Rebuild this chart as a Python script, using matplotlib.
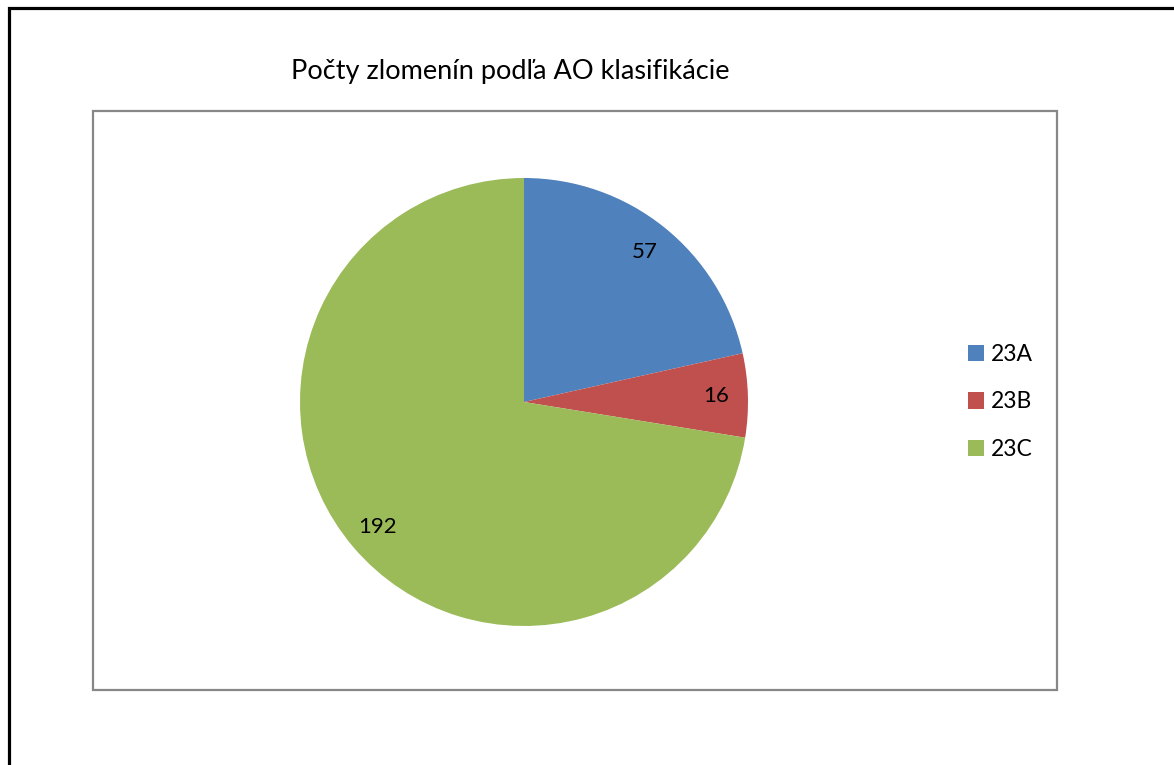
import matplotlib
matplotlib.use("Agg")
import matplotlib.pyplot as plt
from matplotlib.patches import Rectangle, Patch

# Fracture counts by AO classification
categories = ["23A", "23B", "23C"]
counts = [57, 16, 192]
colors = ["#4F81BD", "#C0504D", "#9BBB59"]
title = "Počty zlomenín podľa AO klasifikácie"

W, H = 1174, 765
fig = plt.figure(figsize=(W / 100, H / 100), dpi=100)
plt.rcParams["font.family"] = ["Lato", "DejaVu Sans"]


def fx(px):
    return px / W


def fy(py):
    return 1 - py / H


# outer black frame (right and bottom edges fall outside the canvas)
fig.patches.append(Rectangle((fx(8.5), fy(H + 20)), fx(W + 20), fy(8.5) - fy(H + 20),
                             transform=fig.transFigure, fill=False,
                             edgecolor="black", linewidth=2.3, zorder=0))
# grey plot-area frame
fig.patches.append(Rectangle((fx(93), fy(690)), fx(1057 - 93), fy(111) - fy(690),
                             transform=fig.transFigure, fill=False,
                             edgecolor="#878787", linewidth=1.6, zorder=0))

fig.text(fx(510), fy(72), title, ha="center", va="center", fontsize=19.5, color="black")

cx, cy, r = 524, 402, 224
ax = fig.add_axes([fx(cx - r), fy(cy + r), fx(2 * r), fy(cy - r) - fy(cy + r)])
total = sum(counts)
wedges, _, autotexts = ax.pie(
    counts, colors=colors, startangle=90, counterclock=False, radius=1,
    autopct=lambda p: f"{round(p * total / 100)}", pctdistance=0.86,
    wedgeprops=dict(linewidth=0),
    textprops=dict(fontsize=16, color="black"),
)
ax.set_xlim(-1, 1)
ax.set_ylim(-1, 1)
ax.set_aspect("equal")
ax.axis("off")

handles = [Patch(facecolor=c, edgecolor="none") for c in colors]
fig.legend(handles, categories, loc="center left",
           bbox_to_anchor=(fx(968), fy(402)), frameon=False,
           fontsize=16.5, borderpad=0, borderaxespad=0,
           handlelength=0.7, handleheight=0.7, handletextpad=0.3,
           labelspacing=1.14)

fig.savefig("out.png", dpi=100)
